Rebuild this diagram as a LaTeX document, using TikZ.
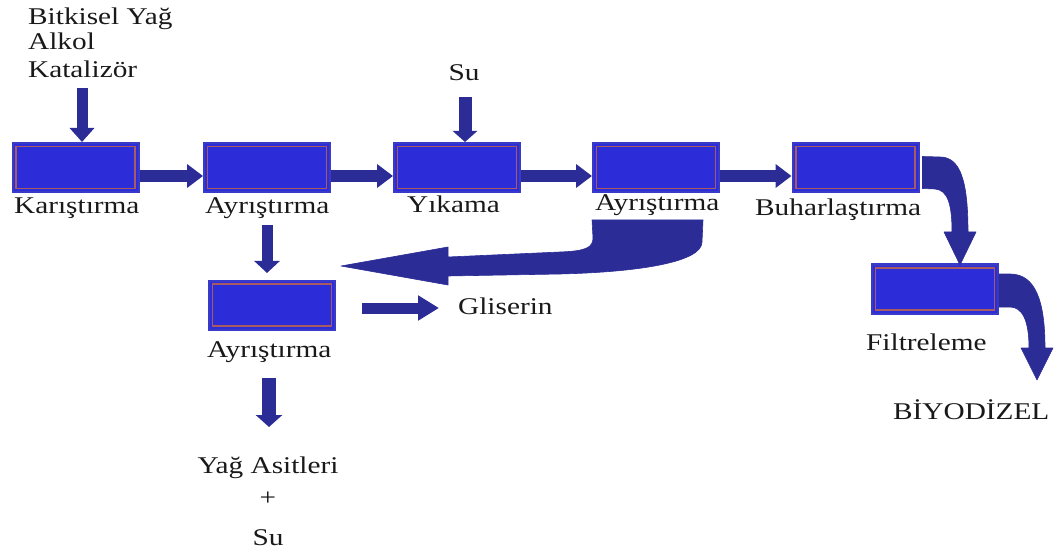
\documentclass[tikz,border=0pt]{standalone}
\usepackage{fontspec}
\setmainfont{Liberation Serif}[FakeStretch=1.22]
\usetikzlibrary{arrows.meta,calc}

\definecolor{boxfill}{RGB}{44,44,216}
\definecolor{boxedge}{RGB}{58,58,200}
\definecolor{boxline}{RGB}{168,92,96}
\definecolor{flow}{RGB}{44,44,150}
\definecolor{txt}{RGB}{25,25,25}

\tikzset{
  unit/.style={rectangle, minimum width=126pt, minimum height=49pt, inner sep=0pt,
    fill=boxfill, draw=boxedge, line width=2pt,
    path picture={\draw[boxline, line width=1.1pt]
      ([shift={(3.5pt,-3.5pt)}]path picture bounding box.north west) rectangle
      ([shift={(-3.5pt,3.5pt)}]path picture bounding box.south east);}},
  lbl/.style={anchor=base west, inner sep=0pt, text=txt, font=\fontsize{24}{28}\selectfont},
  clbl/.style={anchor=base, inner sep=0pt, text=txt, font=\fontsize{24}{28}\selectfont},
  fat/.style={draw=flow, line width=#1, line cap=butt},
  tipA/.style={-{Triangle[length=16pt,width=23pt]}},
  tipB/.style={-{Triangle[length=12pt,width=25pt]}},
  fatband/.style={fill=flow, draw=flow, line width=0.6pt, line join=round}
}

\begin{document}
\begin{tikzpicture}[x=1pt,y=-1pt]
\useasboundingbox (0,0) rectangle (1062,553);

% process units
\node[unit] (mix)  at (75.5,167.5) {};
\node[unit] (sep1) at (267,167.5)  {};
\node[unit] (wash) at (457,167.5)  {};
\node[unit] (sep2) at (656,167.5)  {};
\node[unit] (evap) at (855.5,167.5) {};
\node[unit] (sep3) at (272,305)    {};
\node[unit] (filt) at (935,289)    {};

% labels
\node[lbl] (in1) at (28,25) {Bitkisel Yağ};
\node[lbl] (in2) at (28,50) {Alkol};
\node[lbl] (in3) at (28,78) {Katalizör};
\node[clbl] (water) at (464,81) {Su};
\node[lbl] (lmix)  at (14,214)  {Karıştırma};
\node[lbl] (lsep1) at (205,214) {Ayrıştırma};
\node[lbl] (lwash) at (407,213) {Yıkama};
\node[lbl] (lsep2) at (595,211) {Ayrıştırma};
\node[lbl] (levap) at (755,216) {Buharlaştırma};
\node[lbl] (lsep3) at (207,357) {Ayrıştırma};
\node[lbl] (glyc)  at (458,314) {Gliserin};
\node[lbl] (lfilt) at (866,350) {Filtreleme};
\node[lbl] (bio)   at (893,419) {BİYODİZEL};
\node[clbl] (fa)   at (268,473) {Yağ Asitleri};
\node[clbl] (plus) at (268,505) {+};
\node[clbl] (fw)   at (268,545) {Su};

% free ends of the short arrows
\coordinate (a0) at (82,88);
\coordinate (w0) at (465,97);
\coordinate (s1a) at (267,225);
\coordinate (s1b) at (267,273);
\coordinate (s3a) at (269,378);
\coordinate (s3b) at (269,427);
\coordinate (g0) at (362,308);
\coordinate (g1) at (439,308);

% feed arrows
\draw[fat=11pt, -{Triangle[length=14pt,width=24pt]}] (a0) -- (a0 |- mix.north);
\draw[fat=13pt, -{Triangle[length=11pt,width=24pt]}] (w0) -- (w0 |- wash.north);

% main line
\draw[fat=12pt, tipA] ([yshift=-8.5pt]mix.east)  -- ([yshift=-8.5pt]sep1.west);
\draw[fat=12pt, tipA] ([yshift=-8.5pt]sep1.east) -- ([yshift=-8.5pt]wash.west);
\draw[fat=12pt, tipA] ([yshift=-8.5pt]wash.east) -- ([yshift=-8.5pt]sep2.west);
\draw[fat=12pt, tipA] ([yshift=-8.5pt]sep2.east) -- ([yshift=-8.5pt]evap.west);

% side streams
\draw[fat=11pt, tipB] (s1a) -- (s1b);
\draw[fat=14pt, -{Triangle[length=12pt,width=26pt]}] (s3a) -- (s3b);
\draw[fat=11pt, -{Triangle[length=21pt,width=24pt]}] (g0) -- (g1);

% return stream from the second separator
\path[fatband] ($(sep2.south west)+(0,27)$) -- ($(sep2.south east)+(-17,27)$)
  -- (702,242) .. controls (702,262) and (640,272) .. (560,274)
  -- (448,276) -- (448,285) -- (341,266) -- (448,247) -- (448,257)
  -- (560,252) .. controls (585,251) and (593,248) .. (593,238) -- cycle;

% evaporator to filter
\path[fatband] ($(evap.east)+(3,-11)$) -- (940,157)
  .. controls (960,157) and (968,180) .. (968,232)
  -- (976,232) -- (960,265) -- (944,232) -- (952,232)
  .. controls (952,205) and (948,190) .. (935,189) -- ($(evap.east)+(3,21)$) -- cycle;

% filter outlet
\path[fatband] ($(filt.east)+(0,-15)$) -- (1010,274)
  .. controls (1035,274) and (1045,300) .. (1045,348)
  -- (1053,348) -- (1037,380) -- (1021,348) -- (1029,348)
  .. controls (1029,320) and (1022,307) .. (1010,307) -- ($(filt.east)+(0,18)$) -- cycle;
\end{tikzpicture}
\end{document}
